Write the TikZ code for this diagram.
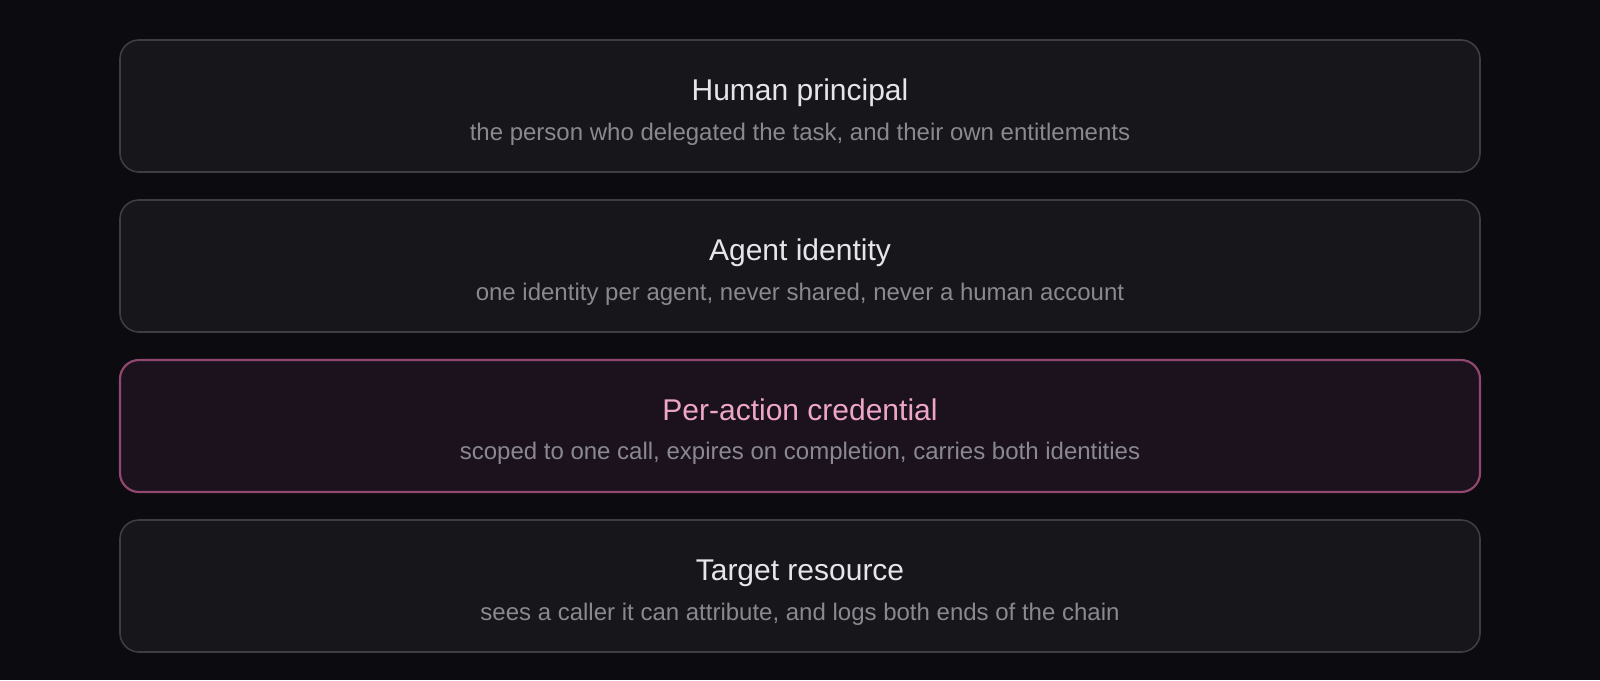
\documentclass[tikz,border=0pt]{standalone}
\usepackage{fontspec}
\setmainfont{Liberation Sans}
\usetikzlibrary{positioning}

\definecolor{bgdark}{HTML}{0C0B10}
\definecolor{boxfill}{HTML}{17161B}
\definecolor{boxline}{HTML}{3E3D44}
\definecolor{hotfill}{HTML}{1B121E}
\definecolor{hotline}{HTML}{92476F}
\definecolor{headtext}{HTML}{E6E6EA}
\definecolor{hottext}{HTML}{EEA6C8}
\definecolor{subtext}{HTML}{8A898F}

\begin{document}
\begin{tikzpicture}
	[x=1pt, y=-1pt, on grid, node distance=160pt,
	 layer/.style={draw=boxline, fill=boxfill, line width=1.6pt, rounded corners=19pt,
	   minimum width=1360pt, minimum height=132pt, inner sep=0pt},
	 hot/.style={layer, draw=hotline, fill=hotfill, line width=2.2pt},
	 head/.style={anchor=base, text=headtext, font=\fontsize{30}{36}\selectfont, inner sep=0pt},
	 sub/.style={anchor=base, text=subtext, font=\fontsize{24}{29}\selectfont, inner sep=0pt}]
   \fill[bgdark] (0,0) rectangle (1600,680);
   \useasboundingbox (0,0) rectangle (1600,680);
   \node[layer] (l_1) at (800,106) {};
   \node[layer] (l_2) [below=of l_1] {};
   \node[hot]   (l_3) [below=of l_2] {};
   \node[layer] (l_4) [below=of l_3] {};
   % titles and notes inside each layer
   \node[head] (h_1) at ([yshift=-61.5pt]l_1.north) {Human principal};
   \node[sub]  (s_1) at ([yshift=-101pt]l_1.north) {the person who delegated the task, and their own entitlements};
   \node[head] (h_2) at ([yshift=-61.5pt]l_2.north) {Agent identity};
   \node[sub]  (s_2) at ([yshift=-101pt]l_2.north) {one identity per agent, never shared, never a human account};
   \node[head, text=hottext] (h_3) at ([yshift=-61.5pt]l_3.north) {Per-action credential};
   \node[sub]  (s_3) at ([yshift=-101pt]l_3.north) {scoped to one call, expires on completion, carries both identities};
   \node[head] (h_4) at ([yshift=-61.5pt]l_4.north) {Target resource};
   \node[sub]  (s_4) at ([yshift=-101pt]l_4.north) {sees a caller it can attribute, and logs both ends of the chain};
\end{tikzpicture}
\end{document}
